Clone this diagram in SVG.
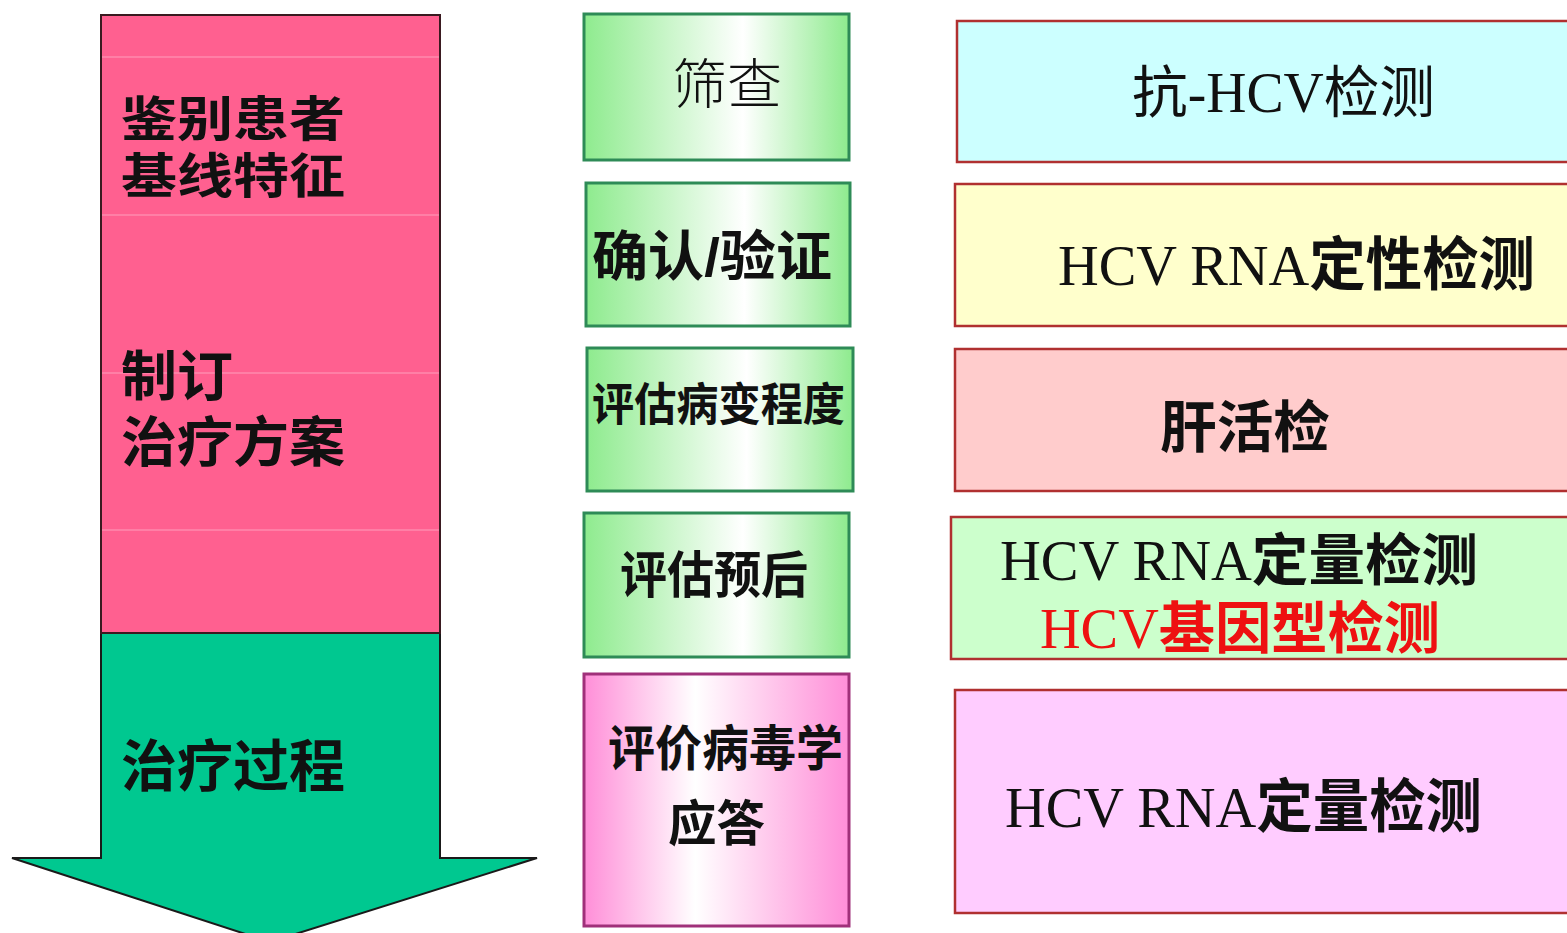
<svg xmlns="http://www.w3.org/2000/svg" width="1567" height="933" viewBox="0 0 1567 933">
<style>
.cjk{font-family:"Liberation Sans","Noto Sans CJK SC",sans-serif;fill:#111}
.b{font-weight:bold}
.lt{font-weight:300}
.ser{font-family:"Liberation Serif","Noto Sans CJK SC",serif}
.mid{stroke:#2E8B57;stroke-width:3}
.rb{stroke:#B03030;stroke-width:2.5}
.faint{stroke:#FF8AAE;stroke-width:1.5}
</style>
<defs>
<linearGradient id="gG" x1="0" y1="0" x2="1" y2="0">
<stop offset="0" stop-color="#8EEB8E"/>
<stop offset="0.6" stop-color="#FFFFFF"/>
<stop offset="1" stop-color="#8EEB8E"/>
</linearGradient>
<linearGradient id="gP" x1="0" y1="0" x2="1" y2="0">
<stop offset="0" stop-color="#FF8ED8"/>
<stop offset="0.42" stop-color="#FFFFFF"/>
<stop offset="1" stop-color="#FF8ED8"/>
</linearGradient>
</defs>
<rect width="1567" height="933" fill="#FFFFFF"/>

<g id="arrow">
<path d="M101,633 L440,633 L440,858 L537,858 L270,942 L12,858 L101,858 Z" fill="#00C890" stroke="#1a1a1a" stroke-width="2"/>
<rect x="101" y="15" width="339" height="618" fill="#FF6090" stroke="#3a1a20" stroke-width="2"/>
<line class="faint" x1="102" y1="57" x2="439" y2="57"/>
<line class="faint" x1="102" y1="215" x2="439" y2="215"/>
<line class="faint" x1="102" y1="373" x2="439" y2="373"/>
<line class="faint" x1="102" y1="530" x2="439" y2="530"/>
<text class="cjk b" x="121" y="136" font-size="48" textLength="224" lengthAdjust="spacingAndGlyphs">鉴别患者</text>
<text class="cjk b" x="121" y="193" font-size="48" textLength="224" lengthAdjust="spacingAndGlyphs">基线特征</text>
<text class="cjk b" x="121" y="396" font-size="54" textLength="112" lengthAdjust="spacingAndGlyphs">制订</text>
<text class="cjk b" x="121" y="462" font-size="54" textLength="224" lengthAdjust="spacingAndGlyphs">治疗方案</text>
<text class="cjk b" x="121" y="786" font-size="56" textLength="224" lengthAdjust="spacingAndGlyphs">治疗过程</text>
</g>

<g id="m1">
<rect class="mid" x="584" y="14" width="265" height="146" fill="url(#gG)"/>
<text class="cjk lt" x="672" y="104" font-size="54" textLength="110" lengthAdjust="spacingAndGlyphs">筛查</text>
</g>
<g id="m2">
<rect class="mid" x="586" y="183" width="264" height="143" fill="url(#gG)"/>
<text class="cjk b" x="592" y="276" font-size="54" textLength="240" lengthAdjust="spacingAndGlyphs">确认/验证</text>
</g>
<g id="m3">
<rect class="mid" x="587" y="348" width="266" height="143" fill="url(#gG)"/>
<text class="cjk b" x="592" y="421" font-size="45" textLength="253" lengthAdjust="spacingAndGlyphs">评估病变程度</text>
</g>
<g id="m4">
<rect class="mid" x="584" y="513" width="265" height="144" fill="url(#gG)"/>
<text class="cjk b" x="620" y="593" font-size="50" textLength="188" lengthAdjust="spacingAndGlyphs">评估预后</text>
</g>
<g id="m5">
<rect x="584" y="674" width="265" height="252" fill="url(#gP)" stroke="#A0307A" stroke-width="3"/>
<text class="cjk b" x="608" y="766" font-size="49" textLength="235" lengthAdjust="spacingAndGlyphs">评价病毒学</text>
<text class="cjk b" x="668" y="841" font-size="49" textLength="97" lengthAdjust="spacingAndGlyphs">应答</text>
</g>

<g id="r1">
<rect class="rb" x="957" y="21" width="620" height="141" fill="#CCFFFF" stroke="#D03030"/>
<text class="cjk ser" x="1132" y="112" font-size="56" textLength="303" lengthAdjust="spacingAndGlyphs">抗-HCV检测</text>
</g>
<g id="r2">
<rect class="rb" x="955" y="184" width="622" height="142" fill="#FFFFCC"/>
<text class="cjk" x="1058" y="285" font-size="58" textLength="477" lengthAdjust="spacingAndGlyphs"><tspan class="ser">HCV RNA</tspan><tspan class="b">定性检测</tspan></text>
</g>
<g id="r3">
<rect class="rb" x="955" y="349" width="622" height="142" fill="#FFCCCC"/>
<text class="cjk b" x="1160" y="447" font-size="56" textLength="170" lengthAdjust="spacingAndGlyphs">肝活检</text>
</g>
<g id="r4">
<rect class="rb" x="951" y="517" width="626" height="142" fill="#CCFFCC"/>
<text class="cjk" x="1000" y="580" font-size="56" textLength="478" lengthAdjust="spacingAndGlyphs"><tspan class="ser">HCV RNA</tspan><tspan class="b">定量检测</tspan></text>
<text class="cjk" x="1040" y="648" font-size="56" textLength="400" lengthAdjust="spacingAndGlyphs" style="fill:#EE1111"><tspan class="ser">HCV</tspan><tspan class="b">基因型检测</tspan></text>
</g>
<g id="r5">
<rect class="rb" x="955" y="690" width="622" height="223" fill="#FFCCFF"/>
<text class="cjk" x="1005" y="827" font-size="58" textLength="477" lengthAdjust="spacingAndGlyphs"><tspan class="ser">HCV RNA</tspan><tspan class="b">定量检测</tspan></text>
</g>
<g id="connectors"></g>
</svg>
